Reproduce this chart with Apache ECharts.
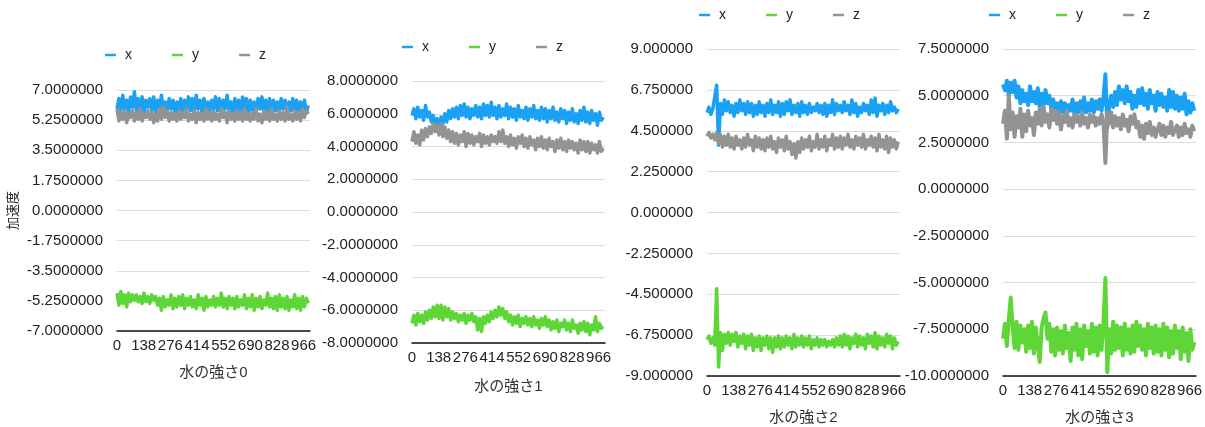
<!DOCTYPE html>
<html>
<head>
<meta charset="utf-8">
<title>加速度</title>
<script src="https://cdn.jsdelivr.net/npm/echarts@6/dist/echarts.min.js"></script>
<style>
  html, body { margin: 0; padding: 0; background: #fff; }
  #chart { width: 1205px; height: 427px; }
</style>
</head>
<body>
<div id="chart"></div>
<script>
// 4 panels, one per 水の強さ, each with x / y / z acceleration
const seriesNames = ['x', 'y', 'z'];
const panelTitles = ['水の強さ0', '水の強さ1', '水の強さ2', '水の強さ3'];
const sampleStep = 10; // one value read every 10 samples
const xMax = 999;
const xInterval = 138; // ticks 0, 138, 276 ... 966

// y axis per panel
const yMin = [-7, -8, -9, -10];
const yMax = [7, 8, 9, 7.5];
const yInterval = [1.75, 2, 2.25, 2.5];
const yDecimals = [7, 7, 6, 7];

// 水の強さ0
const p0x = [
  5.9, 6.5, 5.8, 6.7, 5.9, 6.4, 5.7, 6.6, 6.0, 6.9,
  5.8, 6.5, 5.9, 6.6, 5.7, 6.4, 6.0, 6.5, 5.8, 6.6,
  5.7, 6.4, 5.9, 6.7, 5.8, 6.3, 5.7, 6.5, 5.9, 6.4,
  5.6, 6.3, 5.8, 6.5, 5.7, 6.4, 5.9, 6.6, 5.8, 6.5,
  5.7, 6.7, 5.9, 6.4, 5.7, 6.5, 5.8, 6.3, 5.7, 6.4,
  5.9, 6.6, 5.8, 6.5, 5.7, 6.4, 5.9, 6.7, 5.8, 6.3,
  5.7, 6.5, 5.8, 6.4, 5.6, 6.6, 5.9, 6.5, 5.7, 6.4,
  5.8, 6.3, 5.7, 6.5, 5.9, 6.6, 5.7, 6.4, 5.8, 6.5,
  5.6, 6.4, 5.8, 6.3, 5.7, 6.5, 5.9, 6.4, 5.7, 6.3,
  5.8, 6.5, 5.7, 6.4, 5.6, 6.3, 5.8, 6.4, 5.7, 6.1
];
const p0y = [
  -4.8, -5.5, -4.7, -5.4, -4.9, -5.6, -4.8, -5.3, -4.9, -5.2,
  -4.9, -5.3, -5.0, -5.4, -4.8, -5.3, -5.0, -5.4, -4.9, -5.2,
  -5.0, -5.5, -5.1, -5.8, -5.0, -5.6, -5.2, -5.5, -4.9, -5.7,
  -5.1, -5.6, -5.0, -5.5, -4.9, -5.7, -5.1, -5.5, -5.0, -5.6,
  -5.2, -5.7, -4.9, -5.5, -5.1, -5.8, -5.0, -5.6, -5.2, -5.5,
  -5.0, -5.6, -5.1, -5.5, -4.8, -5.6, -5.1, -5.7, -5.0, -5.5,
  -5.1, -5.7, -5.0, -5.6, -5.2, -5.5, -4.9, -5.7, -5.1, -5.6,
  -4.9, -5.8, -5.1, -5.6, -5.0, -5.7, -5.2, -5.5, -4.8, -5.6,
  -5.1, -5.7, -5.0, -5.8, -4.9, -5.6, -5.1, -5.7, -5.0, -5.8,
  -5.2, -5.6, -4.9, -5.7, -5.1, -5.8, -5.0, -5.6, -5.1, -5.4
];
const p0z = [
  5.9, 5.2, 5.7, 5.3, 5.8, 5.1, 5.6, 5.4, 5.8, 5.2,
  5.7, 5.3, 5.9, 5.2, 5.6, 5.4, 5.8, 5.3, 5.7, 5.1,
  5.6, 5.2, 5.9, 5.3, 6.0, 5.4, 5.8, 5.2, 5.7, 5.3,
  5.6, 5.2, 5.8, 5.3, 5.7, 5.4, 5.9, 5.2, 5.6, 5.3,
  5.8, 5.1, 5.7, 5.3, 5.6, 5.2, 5.9, 5.3, 5.7, 5.2,
  5.8, 5.3, 5.6, 5.2, 5.9, 5.4, 5.7, 5.1, 5.8, 5.3,
  5.6, 5.2, 5.8, 5.3, 5.7, 5.2, 5.9, 5.3, 5.6, 5.2,
  5.7, 5.3, 5.9, 5.2, 5.6, 5.1, 5.8, 5.3, 5.7, 5.2,
  5.9, 5.3, 5.6, 5.2, 5.8, 5.3, 5.7, 5.2, 6.0, 5.3,
  5.6, 5.2, 5.8, 5.3, 5.7, 5.2, 5.9, 5.4, 5.8, 5.6
];

// 水の強さ1
const p1x = [
  5.9, 6.3, 5.7, 6.4, 5.8, 6.2, 5.6, 6.5, 5.8, 6.1,
  5.5, 5.9, 5.3, 5.7, 5.2, 5.8, 5.4, 6.0, 5.5, 6.2,
  5.7, 6.3, 5.8, 6.4, 5.7, 6.5, 5.9, 6.6, 5.8, 6.4,
  5.7, 6.3, 5.9, 6.5, 5.8, 6.4, 5.7, 6.6, 5.9, 6.5,
  5.8, 6.7, 5.9, 6.4, 5.7, 6.5, 5.8, 6.3, 5.9, 6.6,
  5.7, 6.4, 5.8, 6.3, 5.6, 6.5, 5.8, 6.2, 5.7, 6.4,
  5.6, 6.3, 5.8, 6.5, 5.7, 6.2, 5.6, 6.4, 5.7, 6.3,
  5.5, 6.2, 5.7, 6.4, 5.6, 6.1, 5.5, 6.3, 5.7, 6.2,
  5.4, 6.1, 5.6, 6.3, 5.5, 6.0, 5.4, 6.2, 5.6, 6.4,
  5.5, 6.1, 5.4, 6.2, 5.6, 6.0, 5.3, 6.1, 5.6, 5.8
];
const p1y = [
  -6.8, -6.3, -6.9, -6.2, -6.7, -6.3, -6.8, -6.1, -6.6, -6.0,
  -6.5, -5.8, -6.4, -5.7, -6.5, -5.7, -6.6, -5.8, -6.4, -5.9,
  -6.6, -6.1, -6.5, -6.2, -6.7, -6.3, -6.6, -6.2, -6.8, -6.3,
  -6.6, -6.2, -6.7, -6.4, -7.2, -6.5, -7.3, -6.4, -6.8, -6.3,
  -6.7, -6.1, -6.5, -6.0, -6.4, -5.8, -6.3, -5.9, -6.5, -6.1,
  -6.7, -6.3, -6.9, -6.4, -6.8, -6.3, -7.0, -6.5, -6.8, -6.4,
  -6.9, -6.5, -7.0, -6.4, -6.9, -6.6, -7.1, -6.5, -6.9, -6.4,
  -7.0, -6.6, -7.2, -6.7, -7.1, -6.6, -7.3, -6.8, -7.0, -6.6,
  -7.2, -6.8, -7.3, -6.6, -7.1, -6.9, -7.4, -6.8, -7.2, -6.7,
  -7.3, -6.8, -7.5, -6.9, -7.2, -6.4, -7.3, -6.8, -7.1, -7.0
];
const p1z = [
  4.3, 4.9, 4.2, 4.7, 4.1, 5.0, 4.4, 5.1, 4.6, 5.2,
  4.8, 5.4, 4.9, 5.3, 4.7, 5.4, 4.6, 5.2, 4.5, 5.0,
  4.3, 4.9, 4.2, 4.8, 4.1, 4.7, 4.3, 4.9, 4.0, 4.8,
  4.2, 4.7, 4.1, 4.6, 4.3, 4.8, 4.0, 4.7, 4.2, 4.6,
  4.1, 4.7, 4.3, 4.6, 4.2, 4.9, 4.3, 5.0, 4.2, 4.6,
  4.0, 4.7, 4.1, 4.5, 3.9, 4.6, 4.2, 4.7, 4.0, 4.5,
  3.9, 4.6, 4.1, 4.4, 3.8, 4.5, 4.0, 4.6, 3.9, 4.4,
  3.8, 4.5, 4.0, 4.3, 3.7, 4.4, 3.9, 4.5, 3.8, 4.3,
  3.7, 4.4, 3.9, 4.3, 3.8, 4.2, 3.6, 4.4, 3.8, 4.3,
  3.7, 4.3, 3.6, 4.2, 3.8, 4.1, 3.6, 4.3, 3.7, 3.9
];

// 水の強さ2
const p2x = [
  5.5, 5.8, 5.4, 5.7, 5.6, 7.0, 3.7, 6.0, 5.4, 6.2,
  5.6, 6.1, 5.5, 5.9, 5.3, 6.0, 5.5, 6.2, 5.6, 6.0,
  5.4, 6.1, 5.5, 6.0, 5.3, 5.9, 5.4, 6.1, 5.5, 5.9,
  5.3, 6.0, 5.5, 6.2, 5.4, 5.9, 5.5, 6.1, 5.3, 6.0,
  5.4, 6.1, 5.6, 6.2, 5.4, 5.9, 5.5, 6.0, 5.3, 6.1,
  5.5, 5.9, 5.4, 6.0, 5.5, 5.8, 5.6, 6.0, 5.5, 5.9,
  5.4, 6.0, 5.3, 5.9, 5.5, 6.2, 5.4, 6.0, 5.6, 5.9,
  5.5, 6.1, 5.6, 5.9, 5.4, 6.2, 5.5, 6.0, 5.3, 5.8,
  5.5, 6.0, 5.6, 5.9, 5.4, 6.2, 5.5, 6.3, 5.3, 5.9,
  5.6, 6.0, 5.4, 5.9, 5.5, 6.1, 5.6, 5.8, 5.5, 5.7
];
const p2y = [
  -7.0, -6.8, -7.2, -6.9, -7.3, -4.2, -8.5, -6.6, -7.6, -6.7,
  -7.2, -6.6, -7.3, -6.7, -7.1, -6.6, -7.4, -6.8, -7.2, -6.7,
  -7.5, -6.8, -7.3, -6.7, -7.6, -6.9, -7.4, -6.8, -7.6, -6.9,
  -7.3, -6.8, -7.5, -6.9, -7.7, -6.9, -7.4, -6.8, -7.5, -6.9,
  -7.4, -6.8, -7.3, -6.9, -7.5, -6.7, -7.4, -6.9, -7.3, -6.8,
  -7.4, -6.9, -7.3, -6.8, -7.5, -7.0, -7.3, -6.9, -7.4, -7.0,
  -7.3, -7.0, -7.4, -7.1, -7.3, -7.0, -7.4, -6.9, -7.3, -6.8,
  -7.4, -6.7, -7.3, -6.8, -7.5, -6.9, -7.2, -6.7, -7.4, -6.8,
  -7.3, -6.9, -7.5, -6.7, -7.2, -6.8, -7.4, -6.6, -7.5, -6.8,
  -7.3, -6.9, -7.4, -6.7, -7.2, -6.8, -7.5, -6.9, -7.3, -7.1
];
const p2z = [
  4.2, 4.4, 4.1, 4.3, 4.0, 4.4, 3.8, 4.3, 3.6, 4.2,
  3.7, 4.3, 3.6, 4.1, 3.5, 4.2, 3.7, 4.0, 3.5, 4.1,
  3.6, 4.3, 3.7, 4.0, 3.4, 4.2, 3.6, 4.1, 3.5, 4.0,
  3.4, 4.1, 3.6, 4.2, 3.5, 3.9, 3.3, 4.1, 3.6, 4.0,
  3.4, 4.2, 3.5, 3.9, 3.2, 3.8, 3.0, 3.9, 3.3, 4.1,
  3.5, 4.0, 3.6, 4.2, 3.4, 3.9, 3.6, 4.3, 3.5, 4.0,
  3.6, 4.2, 3.4, 4.0, 3.7, 4.3, 3.5, 4.1, 3.6, 4.2,
  3.5, 4.1, 3.7, 4.3, 3.6, 4.0, 3.5, 4.2, 3.7, 4.1,
  3.6, 4.3, 3.5, 4.0, 3.7, 4.2, 3.6, 4.1, 3.4, 4.3,
  3.6, 4.0, 3.5, 4.2, 3.3, 4.1, 3.6, 4.0, 3.5, 3.9
];

// 水の強さ3
const p3x = [
  5.6, 5.3, 5.8, 5.0, 5.7, 5.2, 5.8, 4.9, 5.5, 4.6,
  5.3, 4.7, 5.1, 4.5, 5.5, 4.7, 5.2, 4.6, 5.4, 4.4,
  5.1, 4.5, 5.3, 4.6, 5.0, 4.3, 4.8, 4.1, 4.6, 4.2,
  4.7, 4.1, 4.6, 4.0, 4.5, 4.2, 4.8, 4.0, 4.6, 4.1,
  4.7, 4.2, 4.9, 4.1, 4.6, 4.2, 4.8, 4.1, 4.7, 4.3,
  4.8, 4.2, 4.9, 6.15, 3.3, 4.5, 5.0, 4.4, 5.2, 4.5,
  5.5, 4.8, 5.3, 4.6, 5.5, 4.7, 5.2, 4.3, 5.0, 4.4,
  5.3, 4.6, 5.4, 4.5, 5.1, 4.3, 5.3, 4.6, 5.0, 4.2,
  5.2, 4.5, 5.1, 4.4, 4.9, 4.2, 5.3, 4.4, 5.2, 4.3,
  5.0, 4.2, 4.9, 4.3, 5.1, 4.0, 4.7, 4.1, 4.6, 4.2
];
const p3y = [
  -8.0, -7.2, -8.4, -7.0, -5.8, -7.4, -8.5, -7.1, -8.6, -7.3,
  -8.2, -7.5, -8.7, -7.3, -8.5, -7.1, -8.8, -7.4, -8.3, -9.25,
  -7.4, -6.9, -6.6, -8.0, -7.2, -8.7, -7.5, -8.9, -7.4, -8.6,
  -7.6, -8.8, -7.3, -8.5, -7.7, -9.2, -7.4, -8.6, -7.2, -8.9,
  -7.5, -9.1, -7.3, -8.4, -7.6, -8.8, -7.2, -8.7, -7.4, -8.9,
  -7.3, -8.6, -7.2, -4.76, -9.8, -7.5, -8.8, -7.1, -8.6, -7.3,
  -8.5, -7.4, -8.9, -7.2, -8.6, -7.5, -8.8, -7.3, -8.7, -7.1,
  -8.4, -7.3, -8.6, -7.5, -8.9, -7.2, -8.5, -7.4, -8.8, -7.3,
  -8.7, -7.5, -8.9, -7.2, -8.6, -7.4, -9.0, -7.6, -8.8, -7.3,
  -8.5, -7.6, -9.1, -7.4, -8.7, -7.7, -9.2, -7.5, -8.6, -8.2
];
const p3z = [
  3.5, 4.2, 2.7, 5.0, 3.2, 4.1, 2.8, 3.9, 3.3, 4.3,
  2.8, 4.0, 3.1, 4.2, 3.4, 3.8, 2.9, 4.1, 3.5, 4.3,
  3.4, 4.4, 3.6, 4.0, 3.3, 4.3, 3.7, 4.2, 3.5, 4.1,
  3.2, 3.9, 3.6, 4.2, 3.4, 3.8, 3.3, 4.0, 3.6, 3.9,
  3.4, 4.1, 3.5, 3.8, 3.3, 4.0, 3.6, 3.9, 3.4, 3.8,
  3.5, 4.0, 3.6, 1.4, 4.1, 3.5, 4.1, 3.3, 3.9, 3.4,
  3.8, 3.2, 4.0, 3.4, 3.7, 3.1, 3.9, 3.5, 4.0, 3.3,
  3.6, 2.8, 3.4, 2.7, 3.5, 3.0, 3.6, 2.9, 3.3, 2.8,
  3.2, 3.5, 2.9, 3.4, 2.8, 3.3, 3.0, 3.6, 2.9, 3.2,
  3.4, 2.8, 3.3, 2.9, 3.5, 3.0, 3.2, 2.8, 3.4, 3.1
];

const panelData = [
  [p0x, p0y, p0z],
  [p1x, p1y, p1z],
  [p2x, p2y, p2z],
  [p3x, p3y, p3z],
];

// layout (px)
const colors = ['#1AA1F4', '#5FD637', '#939393'];
const grids = [
  { left: 117, top: 90, width: 193, height: 241 },
  { left: 412, top: 81, width: 193, height: 262 },
  { left: 707, top: 49, width: 193, height: 327 },
  { left: 1003, top: 49, width: 193, height: 327 },
];
const legendPos = [
  { left: 105, top: 48 },
  { left: 402, top: 40 },
  { left: 699, top: 8 },
  { left: 989, top: 8 },
];
const nameGaps = [34, 36, 34, 34];
const lineWidths = [3.5, 3.5, 3.5, 4];

const fontFamily = "'Liberation Sans', 'Noto Sans CJK JP', sans-serif";

const option = {
  animation: false,
  color: colors,
  textStyle: { fontFamily: fontFamily },
  grid: grids.map((g) => Object.assign({ outerBoundsMode: 'none' }, g)),
  legend: legendPos.map((p) => ({
    left: p.left,
    top: p.top,
    padding: 0,
    data: seriesNames,
    icon: 'rect',
    itemWidth: 11,
    itemHeight: 2.5,
    itemGap: 40,
    selectedMode: false,
    textStyle: { fontSize: 14, color: '#222', padding: [0, 0, 0, 4] },
  })),
  xAxis: grids.map((g, i) => ({
    gridIndex: i,
    type: 'value',
    min: 0,
    max: xMax,
    interval: xInterval,
    name: panelTitles[i],
    nameLocation: 'middle',
    nameGap: nameGaps[i],
    nameTextStyle: { fontSize: 15, color: '#333' },
    axisLine: { onZero: false, lineStyle: { color: '#111', width: 1.5 } },
    axisTick: { show: false },
    splitLine: { show: false },
    axisLabel: { fontSize: 15, color: '#222', margin: 7, showMaxLabel: false },
  })),
  yAxis: grids.map((g, i) => ({
    gridIndex: i,
    type: 'value',
    min: yMin[i],
    max: yMax[i],
    interval: yInterval[i],
    name: i === 0 ? '加速度' : '',
    nameLocation: 'middle',
    nameRotate: 90,
    nameGap: 97,
    nameTextStyle: { fontSize: 13, color: '#222' },
    axisLine: { show: false },
    axisTick: { show: false },
    splitLine: { lineStyle: { color: '#dcdcdc', width: 1 } },
    axisLabel: {
      fontSize: 15,
      color: '#222',
      margin: 14,
      formatter: (v) => v.toFixed(yDecimals[i]),
    },
  })),
  series: [],
};

// build the 12 line series
panelData.forEach((arrs, p) => {
  arrs.forEach((vals, s) => {
    option.series.push({
      name: seriesNames[s],
      type: 'line',
      xAxisIndex: p,
      yAxisIndex: p,
      showSymbol: false,
      symbol: 'none',
      lineStyle: { width: lineWidths[p], color: colors[s], join: 'round' },
      itemStyle: { color: colors[s] },
      data: vals.map((v, k) => [k * sampleStep, v]),
    });
  });
});

const myChart = echarts.init(document.getElementById('chart'), null, { renderer: 'canvas' });
myChart.setOption(option);
</script>
</body>
</html>
